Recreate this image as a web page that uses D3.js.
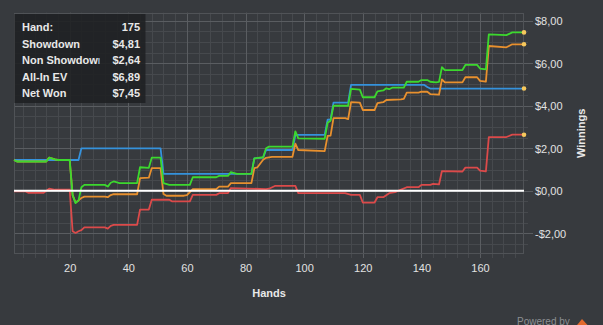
<!DOCTYPE html>
<html><head><meta charset="utf-8">
<script src="https://cdn.jsdelivr.net/npm/d3@7"></script>
<style>html,body{margin:0;padding:0;background:#373a3e;overflow:hidden}svg{display:block}</style>
</head><body><svg id="c" width="603" height="325"></svg>
<script>
// ---- data (hand, winnings $) ----
const showdown = [[1,1.45],[23,1.45],[24,2.0],[51,2.0],[52,0.8],[82,0.8],[83,1.53],[86,1.56],[87,1.92],[96,1.92],[97,2.63],[107,2.63],[108,3.35],[109,3.35],[110,4.15],[115,4.15],[116,4.98],[141,4.98],[142,4.88],[143,4.81],[175,4.81]];
const nonShowdown = [[1,-0.03],[5,-0.03],[6,-0.1],[11,-0.1],[13,0.1],[15,0.05],[20,0.05],[21,-1.9],[22,-1.98],[23,-1.9],[24,-1.85],[25,-1.72],[32,-1.72],[33,-1.78],[34,-1.65],[35,-1.6],[43,-1.6],[44,-0.88],[47,-0.88],[48,-0.42],[54,-0.42],[55,-0.5],[61,-0.5],[62,-0.19],[70,-0.19],[71,-0.11],[74,-0.11],[75,0.13],[87,0.08],[88,0.1],[90,0.23],[97,0.23],[98,-0.11],[114,-0.11],[116,-0.19],[119,-0.19],[120,-0.55],[124,-0.55],[125,-0.3],[127,-0.3],[129,-0.11],[131,-0.06],[135,0.17],[139,0.17],[140,0.28],[143,0.28],[144,0.33],[146,0.3],[147,0.93],[154,0.91],[155,1.09],[159,1.09],[160,0.95],[162,0.91],[163,2.53],[169,2.53],[171,2.64],[175,2.64]];
const allInEV = [[1,1.45],[2,1.38],[12,1.38],[13,1.56],[15,1.48],[16,1.45],[20,1.45],[21,-0.2],[22,-0.55],[23,-0.45],[24,-0.34],[25,-0.27],[32,-0.27],[33,-0.3],[34,-0.2],[35,-0.16],[43,-0.16],[44,0.6],[47,0.62],[48,1.07],[51,1.07],[52,-0.15],[53,-0.23],[59,-0.23],[60,-0.2],[62,0.08],[70,0.08],[71,0.2],[74,0.2],[75,0.36],[82,0.36],[83,1.07],[84,1.1],[86,1.46],[87,1.55],[89,1.6],[96,1.6],[97,2.22],[98,1.92],[107,1.87],[108,2.58],[109,2.6],[110,3.42],[114,3.42],[115,3.37],[116,4.17],[119,4.15],[120,3.8],[124,3.8],[125,4.12],[127,4.17],[128,4.27],[133,4.3],[134,4.32],[135,4.62],[139,4.62],[140,4.66],[142,4.66],[143,4.55],[146,4.52],[147,5.24],[148,5.1],[154,5.1],[155,5.34],[159,5.34],[160,5.17],[162,5.13],[163,6.81],[169,6.75],[171,6.89],[175,6.89]];
const netWon = [[1,1.45],[2,1.38],[12,1.38],[13,1.56],[15,1.48],[16,1.45],[20,1.45],[21,-0.2],[22,-0.58],[23,-0.45],[24,0.17],[25,0.28],[32,0.28],[33,0.2],[34,0.38],[35,0.44],[37,0.36],[43,0.36],[44,1.11],[47,1.08],[48,1.56],[51,1.56],[52,0.36],[54,0.28],[61,0.28],[62,0.64],[70,0.64],[71,0.7],[74,0.7],[75,0.88],[77,0.8],[82,0.8],[83,1.53],[86,1.58],[87,2.0],[88,2.08],[96,2.08],[97,2.8],[98,2.47],[107,2.45],[108,3.2],[109,3.3],[110,4.0],[115,4.0],[116,4.79],[119,4.76],[120,4.4],[124,4.4],[125,4.68],[127,4.72],[128,4.82],[129,4.78],[130,4.85],[134,4.85],[135,5.13],[139,5.13],[140,5.21],[142,5.21],[143,5.13],[145,5.1],[146,5.12],[147,5.81],[148,5.68],[154,5.68],[155,5.92],[159,5.92],[160,5.75],[162,5.71],[163,7.36],[169,7.32],[171,7.45],[175,7.45]];

const seriesNames = ["Showdown","Non Showdown","All-In EV","Net Won"];
const xTicks = [20,40,60,80,100,120,140,160];
const yTicks = [-2,0,2,4,6,8];
const handCount = 175;

// ---- layout ----
const svg = d3.select("#c");
const L=14, R=524, T=12.7, B=254;
const x = d3.scaleLinear().domain([1,175]).range([L,R]);
const y = d3.scaleLinear().domain([-2.97,8.376]).range([B,T]);
const fmt = v => (v<0?"-":"") + "$" + Math.abs(v).toFixed(2).replace(".",",");
const font = "'Liberation Sans', Arial, sans-serif";

svg.append("rect").attr("width",603).attr("height",325).attr("fill","#373a3e");

// grid
const g = svg.append("g");
const minorX = d3.range(4,175,4).filter(v=>v%20!==0);
const minorY = d3.range(-2.5,8.01,0.5).filter(v=>Math.abs(v%2)>0.01);
g.selectAll(".mx").data(minorX).join("line")
  .attr("x1",d=>Math.round(x(d))+0.5).attr("x2",d=>Math.round(x(d))+0.5)
  .attr("y1",T).attr("y2",B+4).attr("stroke","#46494d").attr("stroke-width",1);
g.selectAll(".my").data(minorY).join("line")
  .attr("y1",d=>Math.round(y(d))+0.5).attr("y2",d=>Math.round(y(d))+0.5)
  .attr("x1",L).attr("x2",R+4).attr("stroke","#46494d").attr("stroke-width",1);
g.selectAll(".Mx").data(xTicks).join("line")
  .attr("x1",d=>Math.round(x(d))+0.5).attr("x2",d=>Math.round(x(d))+0.5)
  .attr("y1",T).attr("y2",B+4).attr("stroke","#5a5d61").attr("stroke-width",1);
g.selectAll(".My").data(yTicks).join("line")
  .attr("y1",d=>Math.round(y(d))+0.5).attr("y2",d=>Math.round(y(d))+0.5)
  .attr("x1",L).attr("x2",R+9).attr("stroke","#5a5d61").attr("stroke-width",1);
// border
svg.append("rect").attr("x",L+0.5).attr("y",Math.round(T)+0.5).attr("width",R-L-1).attr("height",B-Math.round(T)-1)
  .attr("fill","none").attr("stroke","#505357");

// axes labels
const xAxis = d3.axisBottom(x).tickValues(xTicks).tickSize(0).tickPadding(0);
const xa = svg.append("g").attr("transform",`translate(0,${B})`).call(xAxis);
xa.select(".domain").remove();
xa.selectAll("text").attr("dy",null).attr("y",18).attr("fill","#e2e2e2")
  .style("font-family",font).style("font-size","11px");
const yAxis = d3.axisRight(y).tickValues(yTicks).tickSize(0).tickFormat(fmt);
const ya = svg.append("g").attr("transform",`translate(${R+11},0)`).call(yAxis);
ya.select(".domain").remove();
ya.selectAll("text").attr("x",0).attr("dy","0.35em").attr("fill","#e2e2e2")
  .style("font-family",font).style("font-size","11px");

svg.append("text").attr("x",(L+R)/2).attr("y",297).attr("text-anchor","middle")
  .attr("fill","#e8e8e8").style("font-family",font).style("font-size","11px").style("font-weight","bold").text("Hands");
svg.append("text").attr("transform",`translate(585,${(T+B)/2}) rotate(-90)`).attr("text-anchor","middle")
  .attr("fill","#e8e8e8").style("font-family",font).style("font-size","11px").style("font-weight","bold").text("Winnings");

// series
const colors = ["#3592dc","#dc4a4a","#e8902e","#3cd82e"];
const data = [showdown, nonShowdown, allInEV, netWon];
const line = d3.line().x(d=>x(d[0])).y(d=>y(d[1]));
[0,1,2,3].forEach(i=>{
  svg.append("path").datum(data[i]).attr("d",line).attr("fill","none")
    .attr("stroke",colors[i]).attr("stroke-width",1.8).attr("stroke-linejoin","round");
});
// zero line
svg.append("line").attr("x1",L).attr("x2",R).attr("y1",y(0)).attr("y2",y(0))
  .attr("stroke","#ffffff").attr("stroke-width",2);
// end markers
data.forEach((s,i)=>{
  const last = s[s.length-1];
  svg.append("circle").attr("cx",x(last[0])).attr("cy",y(last[1])).attr("r",2.3).attr("fill","#f6c85c");
});

// legend box
const lg = svg.append("g");
lg.append("rect").attr("x",14.5).attr("y",14).attr("width",131).attr("height",89)
  .attr("fill","#1f2124").attr("opacity",0.9);
svg.append("defs").append("clipPath").attr("id","lc").append("rect").attr("x",14).attr("y",14).attr("width",85.5).attr("height",90);
const rows = [["Hand:", String(handCount)]].concat(seriesNames.map((n,i)=>[n, fmt(data[i][data[i].length-1][1])]));
rows.forEach((r,i)=>{
  const yy = 31 + i*16.6;
  lg.append("text").attr("x",22).attr("y",yy).attr("clip-path","url(#lc)").attr("fill","#e8e8e8")
    .style("font-family",font).style("font-size","11px").style("font-weight","bold").text(r[0]);
  lg.append("text").attr("x",140).attr("y",yy).attr("text-anchor","end").attr("fill","#e8e8e8")
    .style("font-family",font).style("font-size","11px").style("font-weight","bold").text(r[1]);
});

// powered by (partly below the bottom edge, as in the reference)
svg.append("text").attr("x",517).attr("y",325).attr("fill","#8c8f93")
  .style("font-family",font).style("font-size","10px").text("Powered by");
svg.append("path").attr("d","M573,330 L582,319 L592,330 Z").attr("fill","#e2692c");
</script></body></html>
